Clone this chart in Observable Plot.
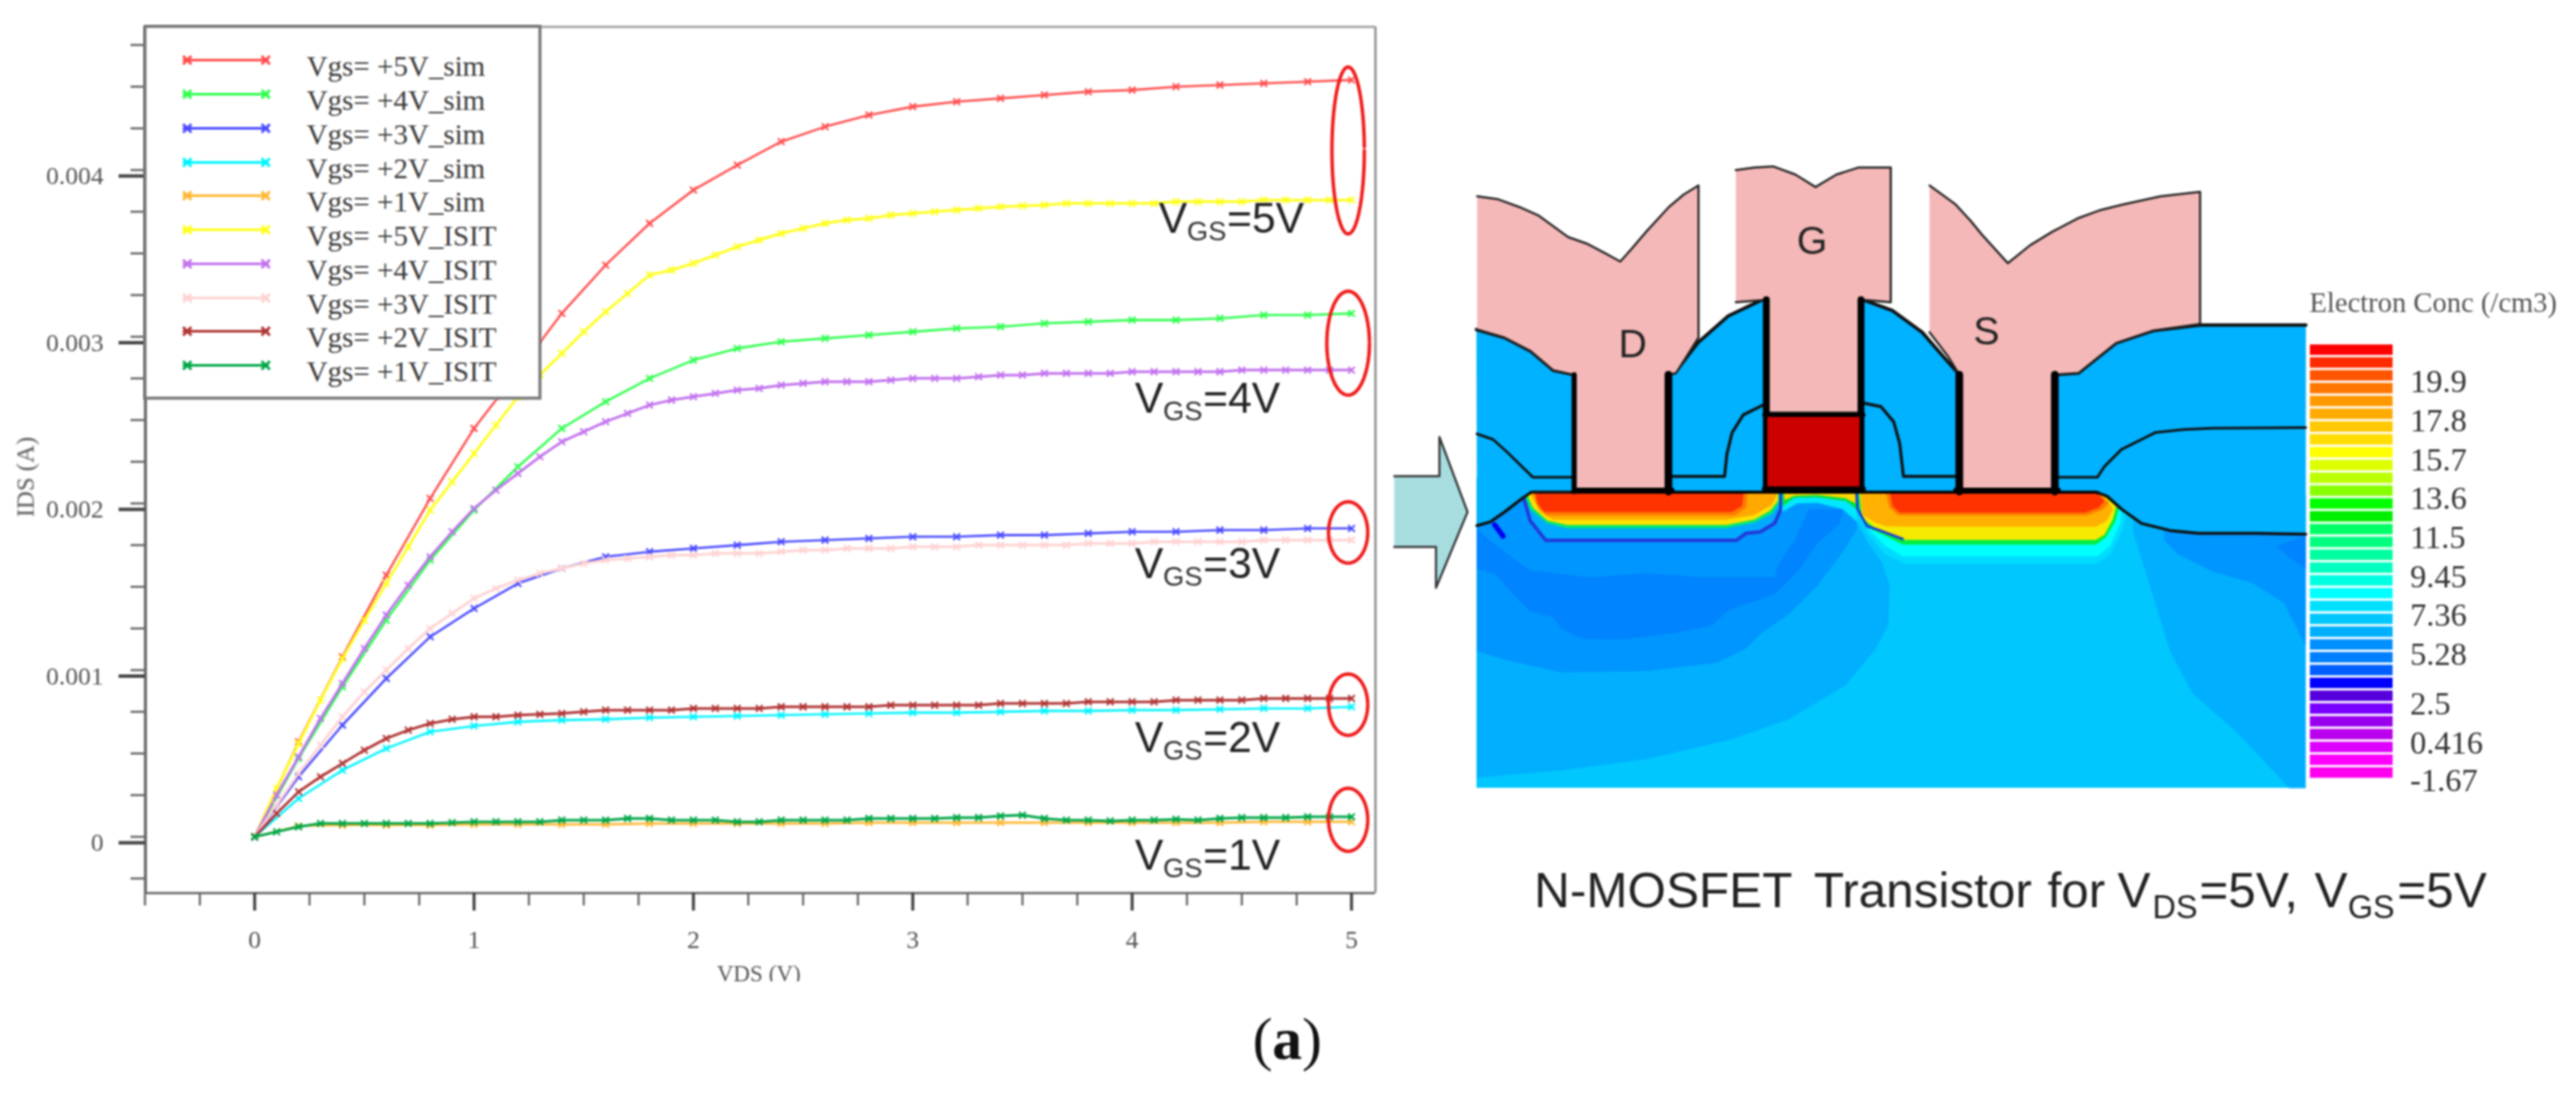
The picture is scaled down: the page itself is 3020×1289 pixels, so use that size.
<!DOCTYPE html>
<html><head><meta charset="utf-8">
<script src="https://cdn.jsdelivr.net/npm/d3@7"></script>
<script src="https://cdn.jsdelivr.net/npm/@observablehq/plot@0.6"></script>
<style>
html,body{margin:0;padding:0;background:#fff;width:3020px;height:1289px;overflow:hidden}
#page{position:relative;width:3020px;height:1289px}
#page svg{position:absolute;left:0;top:0;filter:blur(1px);background:transparent}
</style></head><body><div id="page"></div>
<script>
// ---- IDS (mA); simulated curves every 0.2 V, ISIT every 0.1 V
const sim5=[0,.57,1.08,1.57,2.03,2.45,2.79,3.14,3.43,3.68,3.88,4.03,4.17,4.26,4.33,4.38,4.41,4.43,4.45,4.47,4.48,4.50,4.51,4.52,4.53,4.54];
const sim4=[0,.47,.90,1.30,1.66,1.96,2.22,2.45,2.61,2.75,2.86,2.93,2.97,2.99,3.01,3.03,3.05,3.06,3.08,3.09,3.10,3.10,3.11,3.13,3.13,3.14];
const sim3=[0,.36,.67,.95,1.20,1.37,1.52,1.61,1.68,1.71,1.73,1.75,1.77,1.78,1.79,1.80,1.80,1.81,1.81,1.82,1.83,1.83,1.84,1.84,1.85,1.85];
const sim2=[0,.23,.40,.53,.63,.665,.69,.70,.705,.715,.72,.725,.73,.735,.74,.745,.745,.75,.755,.755,.76,.76,.765,.77,.77,.78];
const sim1=[0,.065,.07,.07,.07,.075,.075,.075,.075,.08,.08,.08,.08,.08,.085,.085,.085,.085,.085,.085,.085,.085,.085,.09,.09,.09];
const isit5=[0,.29,.56,.82,1.07,1.30,1.52,1.74,1.96,2.13,2.30,2.47,2.64,2.77,2.90,3.03,3.15,3.26,3.37,3.40,3.44,3.49,3.54,3.58,3.62,3.65,3.68,3.70,3.71,3.73,3.74,3.75,3.76,3.77,3.78,3.785,3.79,3.80,3.80,3.80,3.80,3.80,3.81,3.81,3.81,3.81,3.82,3.82,3.82,3.82,3.82];
const isit4=[0,.25,.48,.71,.92,1.13,1.33,1.51,1.68,1.83,1.97,2.08,2.18,2.28,2.37,2.43,2.49,2.54,2.59,2.62,2.64,2.66,2.68,2.69,2.71,2.72,2.73,2.73,2.73,2.74,2.75,2.75,2.75,2.76,2.77,2.77,2.78,2.78,2.78,2.78,2.79,2.79,2.79,2.79,2.79,2.80,2.80,2.80,2.80,2.80,2.80];
const isit3=[0,.19,.38,.55,.72,.87,1.00,1.13,1.25,1.34,1.43,1.49,1.54,1.58,1.61,1.64,1.66,1.67,1.68,1.69,1.69,1.70,1.70,1.70,1.71,1.72,1.72,1.73,1.73,1.73,1.74,1.74,1.74,1.75,1.75,1.75,1.75,1.75,1.76,1.76,1.76,1.77,1.77,1.77,1.77,1.77,1.78,1.78,1.78,1.78,1.78];
const isit2=[0,.14,.27,.36,.44,.52,.59,.64,.68,.705,.72,.72,.73,.735,.74,.75,.76,.76,.76,.76,.77,.77,.77,.77,.78,.78,.78,.78,.78,.79,.79,.79,.79,.79,.80,.80,.80,.80,.81,.81,.81,.81,.82,.82,.82,.82,.83,.83,.83,.83,.83];
const isit1=[0,.03,.06,.08,.08,.08,.08,.08,.08,.085,.09,.09,.09,.09,.10,.10,.10,.11,.11,.10,.10,.10,.09,.09,.10,.10,.10,.10,.11,.11,.11,.11,.115,.115,.125,.13,.11,.10,.10,.095,.10,.10,.105,.10,.11,.115,.115,.115,.12,.12,.12];

const seriesNames=["Vgs= +5V_sim","Vgs= +4V_sim","Vgs= +3V_sim","Vgs= +2V_sim","Vgs= +1V_sim","Vgs= +5V_ISIT","Vgs= +4V_ISIT","Vgs= +3V_ISIT","Vgs= +2V_ISIT","Vgs= +1V_ISIT"];
const seriesValues=[sim5,sim4,sim3,sim2,sim1,isit5,isit4,isit3,isit2,isit1];
const seriesColors=["#ff4d4d","#2cff4c","#4a4aff","#00f4ff","#ffb733","#ffff1a","#c272ee","#ffd2d2","#b03434","#00a648"];

const xMajor=[0,1,2,3,4,5];
const yMajor=[0,.001,.002,.003,.004];
const yMajorLabels=["0","0.001","0.002","0.003","0.004"];
const xMinor=d3.range(-.5,5.01,.25);
const yMinor=d3.range(-.25,4.76,.25).map(d=>d/1000);
const vgsLabels=["=5V","=4V","=3V","=2V","=1V"];
const colorbarValues=["19.9","17.8","15.7","13.6","11.5","9.45","7.36","5.28","2.5","0.416","-1.67"];
const colorbarBands=["#ff0000","#ff2a00","#ff5500","#ff7700","#ff9900","#ffaa00","#ffc800","#ffdd00","#ffff00","#ddff00","#bbff00","#88ff00","#00ff00","#00ee00","#00ff66","#00ff80","#00ffa0","#00ffc0","#00ffe0","#00ffff","#00e0ff","#00c8ff","#00b0ff","#0090ff","#0080ff","#0060ff","#0000ff","#5500dd","#7700ff","#9900ee","#bb00ee","#dd00ff","#ff00ff","#ff00ee"];

// ---- chart
const rows=seriesValues.flatMap((vals,k)=>vals.map((v,i)=>({x:i*5/(vals.length-1),y:v/1000,s:k})));
const serif="Liberation Serif",sans="Liberation Sans";
const xLo=-.498,xHi=5.109,yLo=-.0003376,yHi=.004859;
const chart=Plot.plot({
  width:3020,height:1289,marginLeft:170,marginRight:1408,marginTop:31,marginBottom:242,
  style:{background:"transparent",fontFamily:serif},
  x:{domain:[xLo,xHi],axis:null},
  y:{domain:[yLo,yHi],axis:null},
  marks:[
    Plot.ruleY([yHi],{stroke:"#aaa",strokeWidth:3}),
    Plot.ruleX([xHi],{stroke:"#999",strokeWidth:3}),
    Plot.ruleX([xLo],{stroke:"#666",strokeWidth:3.5}),
    Plot.ruleY([yLo],{stroke:"#777",strokeWidth:3}),
    Plot.axisY({ticks:yMinor,tickSize:17,tickFormat:()=>"",stroke:"#666",strokeWidth:2.5,label:null}),
    Plot.axisY({ticks:yMajor,tickSize:31,tickPadding:18,tickFormat:d=>yMajorLabels[yMajor.indexOf(d)],stroke:"#444",strokeWidth:4,fontSize:30,fill:"#555",dy:7,label:null}),
    Plot.axisX({ticks:xMinor,tickSize:15,tickFormat:()=>"",stroke:"#666",strokeWidth:2.5,label:null,y:yLo}),
    Plot.axisX({ticks:xMajor,tickSize:21,tickPadding:22,tickFormat:d=>String(d),stroke:"#444",strokeWidth:3.5,fontSize:30,fill:"#555",label:null,y:yLo}),
    ...seriesNames.flatMap((n,k)=>{
      const data=rows.filter(r=>r.s===k);
      return [
        Plot.line(data,{x:"x",y:"y",stroke:seriesColors[k],strokeWidth:k>=5?3:2.6}),
        Plot.dot(data,{x:"x",y:"y",symbol:"times",r:3.6,stroke:seriesColors[k],strokeWidth:2.2})
      ];
    })
  ]
});

// ---- overlay in picture units: legend, notes, device cross-section
const crop2=a=>a.map(([X,Y])=>[1650+X/1.1445,150+Y/1.568]);
const crop6=a=>a.map(([X,Y])=>[1730+X/3,480+Y/3]);
const crop7=a=>a.map(([X,Y])=>[2210+X/3,480+Y/3]);
const pts=a=>a.map(([x,y])=>({x,y}));
const poly=(a,fill,stroke="none",strokeWidth=0)=>Plot.line(pts(a),{x:"x",y:"y",fill,stroke,strokeWidth});
const path=(a,stroke="#111",strokeWidth=3)=>Plot.line(pts(a),{x:"x",y:"y",stroke,strokeWidth,strokeLinejoin:"round"});
const rectM=(x1,y1,x2,y2,fill)=>Plot.rect([{x1,y1,x2,y2}],{x1:"x1",x2:"x2",y1:"y1",y2:"y2",fill});
const txt=(x,y,t,o={})=>Plot.text([{x,y,t}],{x:"x",y:"y",text:"t",textAnchor:"start",lineAnchor:"bottom",...o});

const legendYs=[70,110,150,190,229,269,309,349,388,428];
const legendMarks=[
  Plot.rect([{x1:170,x2:633,y1:31,y2:467}],{x1:"x1",x2:"x2",y1:"y1",y2:"y2",fill:"#fff",stroke:"#777",strokeWidth:3.5}),
  ...seriesNames.flatMap((n,k)=>[
    path([[215,legendYs[k]],[313,legendYs[k]]],seriesColors[k],3),
    Plot.dot([{x:219,y:legendYs[k]},{x:311,y:legendYs[k]}],{x:"x",y:"y",symbol:"times",r:4.5,stroke:seriesColors[k],strokeWidth:3}),
    txt(359,legendYs[k]+18,n,{fontFamily:serif,fontSize:34,fill:"#3a3a3a"})
  ])
];
const vgsPos=[[1358,272],[1330,483],[1330,677],[1330,881],[1330,1019]];
const vgsMarks=vgsLabels.flatMap((t,i)=>{
  const [x,y]=vgsPos[i];
  return [
    txt(x,y,"V",{fontFamily:sans,fontSize:50,fill:"#222"}),
    txt(x+33,y+9,"GS",{fontFamily:sans,fontSize:32,fill:"#333"}),
    txt(x+80,y,t,{fontFamily:sans,fontSize:50,fill:"#222"})
  ];
});
const ellipses=[[1580,176,19,98],[1580,402,25,61],[1580,624,23,36],[1580,826,23,36],[1580,961,23,37]];
const ellipseMarks=ellipses.map(([cx,cy,rx,ry])=>path(d3.range(0,6.34,.12).map(a=>[cx+rx*Math.cos(a),cy+ry*Math.sin(a)]),"#f01818",4));

// device geometry
const stiBottom=[...crop7([[1478,438],[1300,435],[1100,435],[1000,425],[900,400],[830,350],[780,305],[740,290]]),...crop6([[195,290],[165,310],[100,360],[50,395],[3,408]])];
const oxideTop=crop2([[92,370],[130,385],[165,410],[195,445],[222,453],[358,450],[390,393],[430,345],[476,315],[610,315],[650,335],[690,375],[725,430],[740,453],[868,453],[900,450],[950,395],[1000,372],[1063,362],[1205,362]]);
const deviceMarks=[
  rectM(1731,560,2703,924,"#00c8ff"),
  poly(crop6([[3,250],[3,1295],[300,1270],[600,1230],[900,1160],[1100,1090],[1300,970],[1400,850],[1450,760],[1455,620],[1430,540],[1380,470],[1340,400],[1340,250]]),"#00b0ff"),
  poly(crop7([[870,430],[930,620],[1000,850],[1080,1000],[1230,1130],[1420,1332],[1478,1332],[1478,300],[870,300]]),"#00b0ff"),
  poly(crop6([[3,250],[3,850],[100,880],[300,925],[600,920],[850,890],[950,840],[1000,790],[1100,720],[1200,620],[1290,500],[1340,420],[1340,250]]),"#0096ff"),
  poly(crop7([[980,460],[1030,510],[1150,570],[1290,610],[1400,680],[1478,830],[1478,300],[980,300]]),"#0096ff"),
  poly(crop6([[3,420],[60,470],[140,530],[190,565],[400,590],[600,575],[800,590],[1050,590],[1060,550],[1120,460],[1170,350],[1290,350],[1280,400],[1200,470],[1130,570],[1050,650],[930,690],[880,710],[830,760],[700,785],[500,810],[370,805],[300,770],[270,730],[190,710],[130,650],[70,580],[3,560]]),"#0084ff"),
  poly(crop7([[1375,480],[1478,445],[1478,560],[1420,520]]),"#0084ff"),
  path(crop6([[65,405],[95,445]]),"#0000ee",6),
  // drain junction
  poly(crop6([[165,300],[190,390],[245,460],[915,460],[950,435],[1000,430],[1050,400],[1072,350],[1072,290]]),"#00aaff","#2238d8",4),
  poly(crop6([[170,300],[190,350],[250,400],[320,417],[880,417],[980,397],[1040,367],[1065,330],[1068,290]]),"#00e870"),
  poly(crop6([[178,295],[200,345],[250,390],[320,406],[880,406],[980,386],[1035,355],[1062,320],[1062,290]]),"#ffe000"),
  poly(crop6([[188,290],[225,360],[270,387],[880,387],[980,370],[1040,335],[1062,290]]),"#ffa800"),
  poly(crop6([[200,290],[220,345],[250,372],[910,372],[950,345],[955,290]]),"#ff7a00"),
  poly(crop6([[208,290],[215,330],[240,360],[900,360],[935,340],[942,290]]),"#ff3300"),
  // channel
  poly(crop6([[1075,290],[1075,360],[1130,330],[1200,328],[1290,350],[1340,395],[1340,290]]),"#00e8ff"),
  poly(crop6([[1078,290],[1078,340],[1120,310],[1200,308],[1300,322],[1338,350],[1338,290]]),"#00e040"),
  poly(crop6([[1082,290],[1085,318],[1120,303],[1200,300],[1300,312],[1335,330],[1335,290]]),"#ffd800"),
  path(crop6([[1072,290],[1072,350]]),"#2238d8",3),
  // source junction
  poly(crop7([[-105,290],[-95,380],[-60,440],[0,510],[70,542],[740,542],[790,510],[835,420],[845,360],[780,290]]),"#00dcff"),
  poly(crop7([[-100,290],[-90,380],[-50,430],[0,480],[60,515],[745,515],[790,480],[825,400],[830,350],[770,290]]),"#00ffff"),
  poly(crop7([[-98,290],[-88,380],[-50,420],[0,445],[60,475],[740,475],[775,450],[810,390],[820,345],[760,290]]),"#00ee40"),
  poly(crop7([[-92,290],[-82,380],[-45,410],[0,435],[70,458],[740,458],[770,440],[800,385],[812,340],[750,290]]),"#f6ea00"),
  poly(crop7([[-88,290],[-80,370],[-40,395],[0,410],[70,412],[740,412],[780,390],[800,350],[770,300],[745,290]]),"#ffb000"),
  poly(crop7([[0,290],[15,345],[45,372],[710,372],[765,350],[785,330],[745,290]]),"#ff7a00"),
  poly(crop7([[15,290],[25,340],[50,362],[700,362],[750,345],[770,320],[740,290]]),"#ff3300"),
  path(crop6([[1338,290],[1342,350],[1375,410],[1420,425],[1500,455]]),"#2238d8",3),
  // oxide
  poly([...oxideTop,...stiBottom],"#00b2ff"),
  path(oxideTop,"#111",4),
  path(stiBottom,"#111",3.5),
  path(crop6([[3,85],[60,105],[110,150],[200,238],[335,238]]),"#111",3),
  path(crop2([[355,640],[425,640],[428,600],[435,560],[450,527],[478,508]]),"#111",3.5),
  path(crop2([[610,505],[635,512],[652,540],[660,580],[665,640],[735,640]]),"#111",3.5),
  path(crop7([[610,238],[745,238],[770,200],[830,140],[950,80],[1050,70],[1150,65],[1478,63]]),"#111",3),
  // metal
  poly(crop2([[93,125],[120,130],[150,145],[175,160],[195,180],[215,200],[240,212],[265,230],[285,245],[300,222],[320,190],[350,145],[370,122],[390,105],[390,385],[360,450],[350,453],[350,665],[222,665],[222,453],[195,445],[165,410],[130,385],[93,370]]),"#f5b8b8","#222",2.5),
  poly(crop2([[440,77],[465,72],[490,70],[520,85],[547,108],[575,85],[605,72],[648,72],[648,320],[608,315],[608,523],[483,523],[483,315],[440,320]]),"#f5b8b8","#222",2.5),
  poly(crop2([[700,105],[735,140],[755,170],[770,195],[805,248],[835,215],[865,190],[900,165],[930,150],[960,140],[1010,125],[1063,117],[1063,360],[1000,372],[950,395],[900,450],[868,453],[868,665],[740,665],[740,453],[725,420],[700,375]]),"#f5b8b8","#222",2.5),
  path([[1845,439],[1845,576]],"#000",6),
  path([[1955.5,439],[1955.5,576]],"#000",9),
  path([[2296.5,439],[2296.5,576]],"#000",9),
  path([[2408.5,439],[2408.5,576]],"#000",9),
  path(crop2([[481,315],[481,660]]),"#000",8),
  path(crop2([[608,315],[608,660]]),"#000",8),
  rectM(2072,488,2180,571,"#cc0000"),
  path([[2068,486],[2184,486]],"#000",5),
  path([[2068,573],[2184,573]],"#000",6),
  path([[1842,577],[2459,577]],"#000",3),
  path([[1845,574],[1960,574]],"#000",5),
  path([[2292,574],[2413,574]],"#000",5),
  txt(1897,418,"D",{fontFamily:sans,fontSize:46,fill:"#222"}),
  txt(2106,297,"G",{fontFamily:sans,fontSize:46,fill:"#222"}),
  txt(2313,403,"S",{fontFamily:sans,fontSize:46,fill:"#222"})
];
const arrowMark=poly([[1634,558],[1687,558],[1687,512],[1720,600],[1683,689],[1683,641],[1634,641]],"#a8dde0","#333",2.5);
const colorbarMarks=[
  ...colorbarBands.map((c,i)=>rectM(2708,404+i*15.03,2805,404+i*15.03+12.3,c)),
  ...colorbarValues.map((t,i)=>txt(2825,[447,493,539,584,630,676,721,767,825,871,915][i],t,{fontFamily:serif,fontSize:38,fill:"#333",lineAnchor:"middle"})),
  txt(2707,355,"Electron Conc (/cm3)",{fontFamily:serif,fontSize:33.5,fill:"#555",lineAnchor:"middle"})
];
const capStyle={fontFamily:sans,fontSize:58,fill:"#222"},subStyle={fontFamily:sans,fontSize:38,fill:"#222"};
const captionMarks=[
  txt(1798,1063,"N-MOSFET",capStyle),
  txt(2126,1063,"Transistor",capStyle),
  txt(2400,1063,"for",capStyle),
  txt(2482,1063,"V",capStyle),
  txt(2523,1076,"DS",subStyle),
  txt(2578,1063,"=5V,",capStyle),
  txt(2713,1063,"V",capStyle),
  txt(2752,1076,"GS",subStyle),
  txt(2810,1063,"=5V",capStyle),
  txt(1468,1241,"(",{fontFamily:serif,fontSize:70,fill:"#111"}),
  txt(1491,1241,"a",{fontFamily:serif,fontSize:70,fontWeight:"bold",fill:"#111"}),
  txt(1526,1241,")",{fontFamily:serif,fontSize:70,fill:"#111"})
];
const axisTitleMarks=[
  txt(889,1142,"VDS (V)",{fontFamily:serif,fontSize:27,fill:"#555",textAnchor:"middle",lineAnchor:"middle"}),
  rectM(800,1151,980,1170,"#fff"),
  Plot.text([{x:30,y:559,t:"IDS (A)"}],{x:"x",y:"y",text:"t",rotate:-90,fontFamily:serif,fontSize:29,fill:"#555"})
];
const overlay=Plot.plot({
  width:3020,height:1289,margin:0,
  style:{background:"transparent"},
  x:{domain:[0,3020],range:[0,3020],axis:null},
  y:{domain:[0,1289],range:[0,1289],axis:null},
  marks:[...legendMarks,...vgsMarks,...ellipseMarks,...deviceMarks,arrowMark,...colorbarMarks,...captionMarks,...axisTitleMarks]
});
document.getElementById("page").append(chart,overlay);
</script></body></html>
